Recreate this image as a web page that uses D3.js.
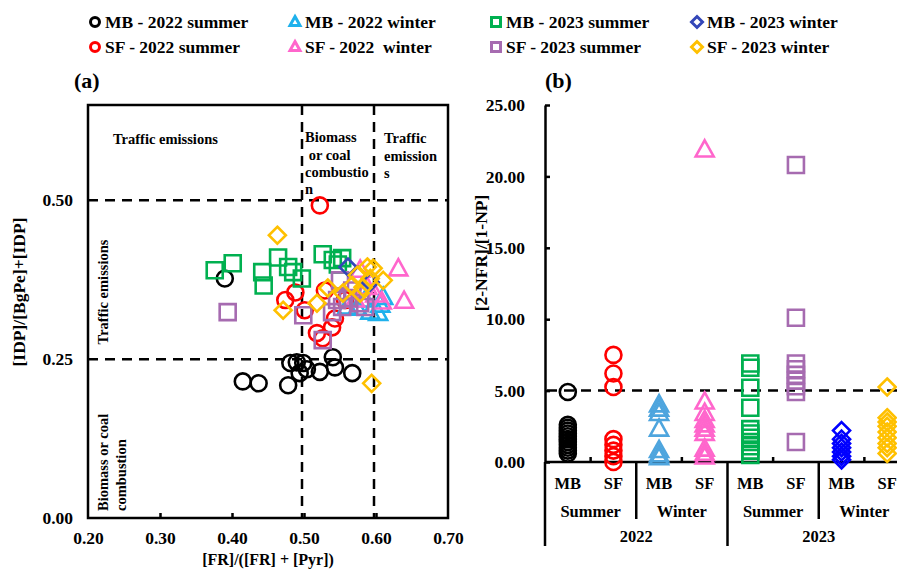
<!DOCTYPE html>
<html><head><meta charset="utf-8">
<script src="https://cdn.jsdelivr.net/npm/d3@7"></script>
<style>
html,body{margin:0;padding:0;background:#fff;}
svg{display:block;font-family:"Liberation Serif","Times New Roman",serif;font-weight:bold;}
</style></head>
<body>
<svg id="chart" width="897" height="569"></svg>
<script>
// ---------- Data ----------
const seriesNames = ["MB - 2022 summer","SF - 2022 summer","MB - 2022 winter","SF - 2022  winter",
                     "MB - 2023 summer","SF - 2023 summer","MB - 2023 winter","SF - 2023 winter"];
// Panel (a): [FR]/([FR]+[Pyr]) vs [IDP]/[BgPe]+[IDP]
const aMB2022Summer = [[0.415,0.215],[0.437,0.212],[0.478,0.209],[0.481,0.244],[0.490,0.245],[0.499,0.244],[0.504,0.234],[0.494,0.228],[0.522,0.230],[0.540,0.253],[0.543,0.237],[0.567,0.228],[0.390,0.377]];
const aSF2022Summer = [[0.522,0.492],[0.474,0.343],[0.488,0.355],[0.529,0.358],[0.518,0.291],[0.526,0.283],[0.539,0.300],[0.543,0.314],[0.557,0.343],[0.501,0.327]];
const aMB2022Winter = [[0.560,0.332],[0.574,0.330],[0.592,0.324],[0.606,0.335],[0.610,0.347],[0.603,0.322],[0.585,0.343]];
const aSF2022Winter = [[0.631,0.392],[0.639,0.341],[0.608,0.340],[0.599,0.351],[0.588,0.363],[0.578,0.390],[0.571,0.343]];
const aMB2023Summer = [[0.376,0.390],[0.401,0.401],[0.442,0.387],[0.444,0.366],[0.464,0.410],[0.478,0.395],[0.485,0.387],[0.497,0.377],[0.526,0.415],[0.540,0.406],[0.547,0.399],[0.553,0.409]];
const aSF2023Summer = [[0.394,0.324],[0.499,0.319],[0.526,0.280],[0.539,0.324],[0.546,0.343],[0.553,0.332],[0.561,0.346],[0.578,0.338],[0.585,0.332],[0.550,0.374],[0.567,0.358]];
const aMB2023Winter = [[0.561,0.395],[0.575,0.382],[0.592,0.371]];
const aSF2023Winter = [[0.463,0.445],[0.471,0.327],[0.594,0.212],[0.518,0.338],[0.533,0.362],[0.554,0.354],[0.567,0.366],[0.574,0.382],[0.588,0.395],[0.596,0.393],[0.610,0.374],[0.582,0.363],[0.592,0.377],[0.578,0.354]];

// Panel (b): [2-NFR]/[1-NP] per category
const bCategories = ["MB","SF","MB","SF","MB","SF","MB","SF"];
const bSeasons = ["Summer","Winter","Summer","Winter"];
const bYears = ["2022","2023"];
const bMB2022Summer = [4.9,2.6,2.4,2.2,2.0,1.8,1.6,1.4,1.2,1.0,0.8,0.6];
const bSF2022Summer = [7.5,6.2,5.25,1.6,1.2,0.8,0.4,0.0];
const bMB2022Winter = [4.0,3.7,3.4,2.3,0.8,0.5,0.3];
const bSF2022Winter = [21.85,4.2,3.4,2.9,2.6,2.3,2.0,0.9,0.6,0.35];
const bMB2023Summer = [6.9,6.6,5.2,3.8,2.3,2.0,1.7,1.4,1.1,0.8,0.5];
const bSF2023Summer = [20.8,10.1,6.9,6.5,6.1,5.7,5.3,4.9,1.4];
const bMB2023Winter = [2.2,1.6,1.3,1.0,0.7,0.4,0.15];
const bSF2023Winter = [5.25,3.1,2.8,2.5,2.1,1.7,1.3,1.0,0.6];

const aTicksX = [0.2,0.3,0.4,0.5,0.6,0.7];
const aTicksY = [0,0.25,0.5];
const bTicksY = [0,5,10,15,20,25];

// ---------- Styles ----------
const shapes = ["circle","circle","triangle","triangle","square","square","diamond","diamond"];
const colorsA = ["#000000","#FF0000","#1FB1EC","#FF66CC","#00B050","#A66BB0","#3346B8","#FFC000"];
const colorsB = ["#000000","#FF0000","#4EA5DE","#FF66CC","#00B050","#A66BB0","#0000FF","#FFC000"];

const svg = d3.select("#chart");

function symbolPath(shape, s) {
  if (shape === "circle") return d3.symbol(d3.symbolCircle, Math.PI*(s/2)*(s/2))();
  if (shape === "square") return d3.symbol(d3.symbolSquare, s*s)();
  if (shape === "triangle") {
    const h = s*0.9, w = s;
    return `M0,${-h*0.6}L${w/2},${h*0.4}L${-w/2},${h*0.4}Z`;
  }
  if (shape === "diamond") {
    const r = s/2;
    return `M0,${-r}L${r},0L0,${r}L${-r},0Z`;
  }
}

// ---------- Legend ----------
const legCols = [95, 295, 496, 697];
const legRows = [22, 47];
const legendOrder = [0,2,4,6,1,3,5,7];
legendOrder.forEach((si, k) => {
  const col = k % 4, row = Math.floor(k/4);
  const g = svg.append("g").attr("transform", `translate(${legCols[col]},${legRows[row]})`);
  g.append("path").attr("d", symbolPath(shapes[si], shapes[si]==="diamond"?11:(shapes[si]==="triangle"?10:9)))
    .attr("fill","none").attr("stroke", colorsA[si]).attr("stroke-width", 3);
  g.append("text").attr("x", 10).attr("y", 6).attr("font-size", 17.5).style("white-space","pre").text(seriesNames[si]);
});

// ---------- Panel (a) ----------
const xA = d3.scaleLinear().domain([0.2,0.7]).range([88,448]);
const yA = d3.scaleLinear().domain([0,0.65]).range([518,105]);

svg.append("text").attr("x", 74).attr("y", 88).attr("font-size", 22).text("(a)");

const gA = svg.append("g");
const dash = "10,7";
[0.5,0.25].forEach(v => gA.append("line").attr("x1", xA(0.2)).attr("x2", xA(0.7)).attr("y1", yA(v)).attr("y2", yA(v))
  .attr("stroke","#000").attr("stroke-width",2.5).attr("stroke-dasharray",dash));
[0.5,0.6].forEach(v => gA.append("line").attr("x1", xA(v)-2).attr("x2", xA(v)-2).attr("y1", yA(0.65)).attr("y2", yA(0))
  .attr("stroke","#000").attr("stroke-width",2.5).attr("stroke-dasharray",dash));

const ann = gA.append("g").attr("font-size", 14.5);
ann.append("text").attr("x", 113).attr("y", 144).text("Traffic emissions");
[["Biomass",142],[" or coal",160],["combustio",177],["n",194]].forEach(([t,y]) =>
  ann.append("text").attr("x", 305).attr("y", y).style("white-space","pre").text(t));
[["Traffic",143],["emission",161],["s",178]].forEach(([t,y]) =>
  ann.append("text").attr("x", 384).attr("y", y).text(t));
ann.append("text").attr("transform","translate(108,292) rotate(-90)").attr("text-anchor","middle").text("Traffic emissions");
ann.append("text").attr("transform","translate(108,511) rotate(-90)").text("Biomass or coal");
ann.append("text").attr("transform","translate(126,511) rotate(-90)").text("combustion");

const axXA = d3.axisBottom(xA).tickValues(aTicksX).tickFormat(d3.format(".2f")).tickSizeInner(-5).tickSizeOuter(0).tickPadding(14);
const gxA = gA.append("g").attr("transform", `translate(0,${yA(0)})`).call(axXA);
gxA.select(".domain").remove();
gxA.selectAll("line").attr("stroke","#000").attr("stroke-width",2.5);
gxA.selectAll("text").attr("font-size", 17.5).attr("font-family","Liberation Serif").attr("font-weight","bold").attr("fill","#000");
gxA.selectAll(".tick").filter(d => d===0.2 || d===0.7).select("line").remove();

const axYA = d3.axisLeft(yA).tickValues(aTicksY).tickFormat(d3.format(".2f")).tickSize(0).tickPadding(15);
const gyA = gA.append("g").attr("transform", `translate(${xA(0.2)},0)`).call(axYA);
gyA.select(".domain").remove();
gyA.selectAll("text").attr("font-size", 17.5).attr("font-family","Liberation Serif").attr("font-weight","bold").attr("fill","#000");

gA.append("text").attr("x", 268).attr("y", 565).attr("text-anchor","middle").attr("font-size", 16).text("[FR]/([FR] + [Pyr])");
gA.append("text").attr("transform","translate(25,292) rotate(-90)").attr("text-anchor","middle").attr("font-size", 17.5).text("[IDP]/[BgPe]+[IDP]");

const aSeries = [aMB2022Summer,aSF2022Summer,aMB2022Winter,aSF2022Winter,aMB2023Summer,aSF2023Summer,aMB2023Winter,aSF2023Winter];
const aSizes = {circle:16, square:16, triangle:18, diamond:17};
aSeries.forEach((pts, si) => {
  gA.append("g").selectAll("path").data(pts).join("path")
    .attr("d", symbolPath(shapes[si], aSizes[shapes[si]]))
    .attr("transform", d => `translate(${xA(d[0])},${yA(d[1])})`)
    .attr("fill","none").attr("stroke", colorsA[si]).attr("stroke-width", 2.6);
});

gA.append("rect").attr("x", xA(0.2)).attr("y", yA(0.65)).attr("width", xA(0.7)-xA(0.2)).attr("height", yA(0)-yA(0.65))
  .attr("fill","none").attr("stroke","#000").attr("stroke-width",2.5);

// ---------- Panel (b) ----------
svg.append("text").attr("x", 545).attr("y", 88).attr("font-size", 22).text("(b)");
const gB = svg.append("g");
const xB = d3.scaleBand().domain(d3.range(bCategories.length)).range([545, 910]).paddingInner(0).paddingOuter(0);
const yB = d3.scaleLinear().domain([0,25]).range([462,105]);

gB.append("line").attr("x1", 547).attr("x2", 910).attr("y1", yB(5)).attr("y2", yB(5))
  .attr("stroke","#000").attr("stroke-width",2.5).attr("stroke-dasharray","10,7");

const axYB = d3.axisLeft(yB).tickValues(bTicksY).tickFormat(d3.format(".2f")).tickSizeInner(-5).tickSizeOuter(0).tickPadding(20);
const gyB = gB.append("g").attr("transform", `translate(545,0)`).call(axYB);
gyB.select(".domain").attr("stroke","#000").attr("stroke-width",2.5);
gyB.selectAll("line").attr("stroke","#000").attr("stroke-width",2.5);
gyB.selectAll("text").attr("font-size", 17.5).attr("font-family","Liberation Serif").attr("font-weight","bold").attr("fill","#000");
gB.append("text").attr("transform","translate(487,253) rotate(-90)").attr("text-anchor","middle").attr("font-size", 17.5).text("[2-NFR]/[1-NP]");

gB.append("line").attr("x1", 545).attr("x2", 910).attr("y1", yB(0)).attr("y2", yB(0)).attr("stroke","#000").attr("stroke-width",2.5);
[1,3,5,7].forEach(i => gB.append("line").attr("x1", xB(i)).attr("x2", xB(i)).attr("y1", yB(0)).attr("y2", yB(0)-5)
  .attr("stroke","#000").attr("stroke-width",2.5));
[[0,546],[2,519],[4,546],[6,519]].forEach(([i,y2]) => gB.append("line").attr("x1", xB(i)).attr("x2", xB(i)).attr("y1", yB(0)).attr("y2", y2)
  .attr("stroke","#000").attr("stroke-width",2.5));

const bw = xB.bandwidth();
bCategories.forEach((c,i) => gB.append("text").attr("x", xB(i)+bw/2).attr("y", 489).attr("text-anchor","middle").attr("font-size",16.5).text(c));
bSeasons.forEach((s,i) => gB.append("text").attr("x", xB(i*2)+bw).attr("y", 517).attr("text-anchor","middle").attr("font-size",16.5).text(s));
bYears.forEach((s,i) => gB.append("text").attr("x", xB(i*4)+2*bw).attr("y", 542).attr("text-anchor","middle").attr("font-size",16.5).text(s));

const bSeries = [bMB2022Summer,bSF2022Summer,bMB2022Winter,bSF2022Winter,bMB2023Summer,bSF2023Summer,bMB2023Winter,bSF2023Winter];
const bSizes = {circle:16, square:16, triangle:18, diamond:17};
bSeries.forEach((vals, si) => {
  gB.append("g").selectAll("path").data(vals).join("path")
    .attr("d", symbolPath(shapes[si], bSizes[shapes[si]]))
    .attr("transform", d => `translate(${xB(si)+bw/2},${yB(d)})`)
    .attr("fill","none").attr("stroke", colorsB[si]).attr("stroke-width", 2.6);
});
</script>
</body></html>
